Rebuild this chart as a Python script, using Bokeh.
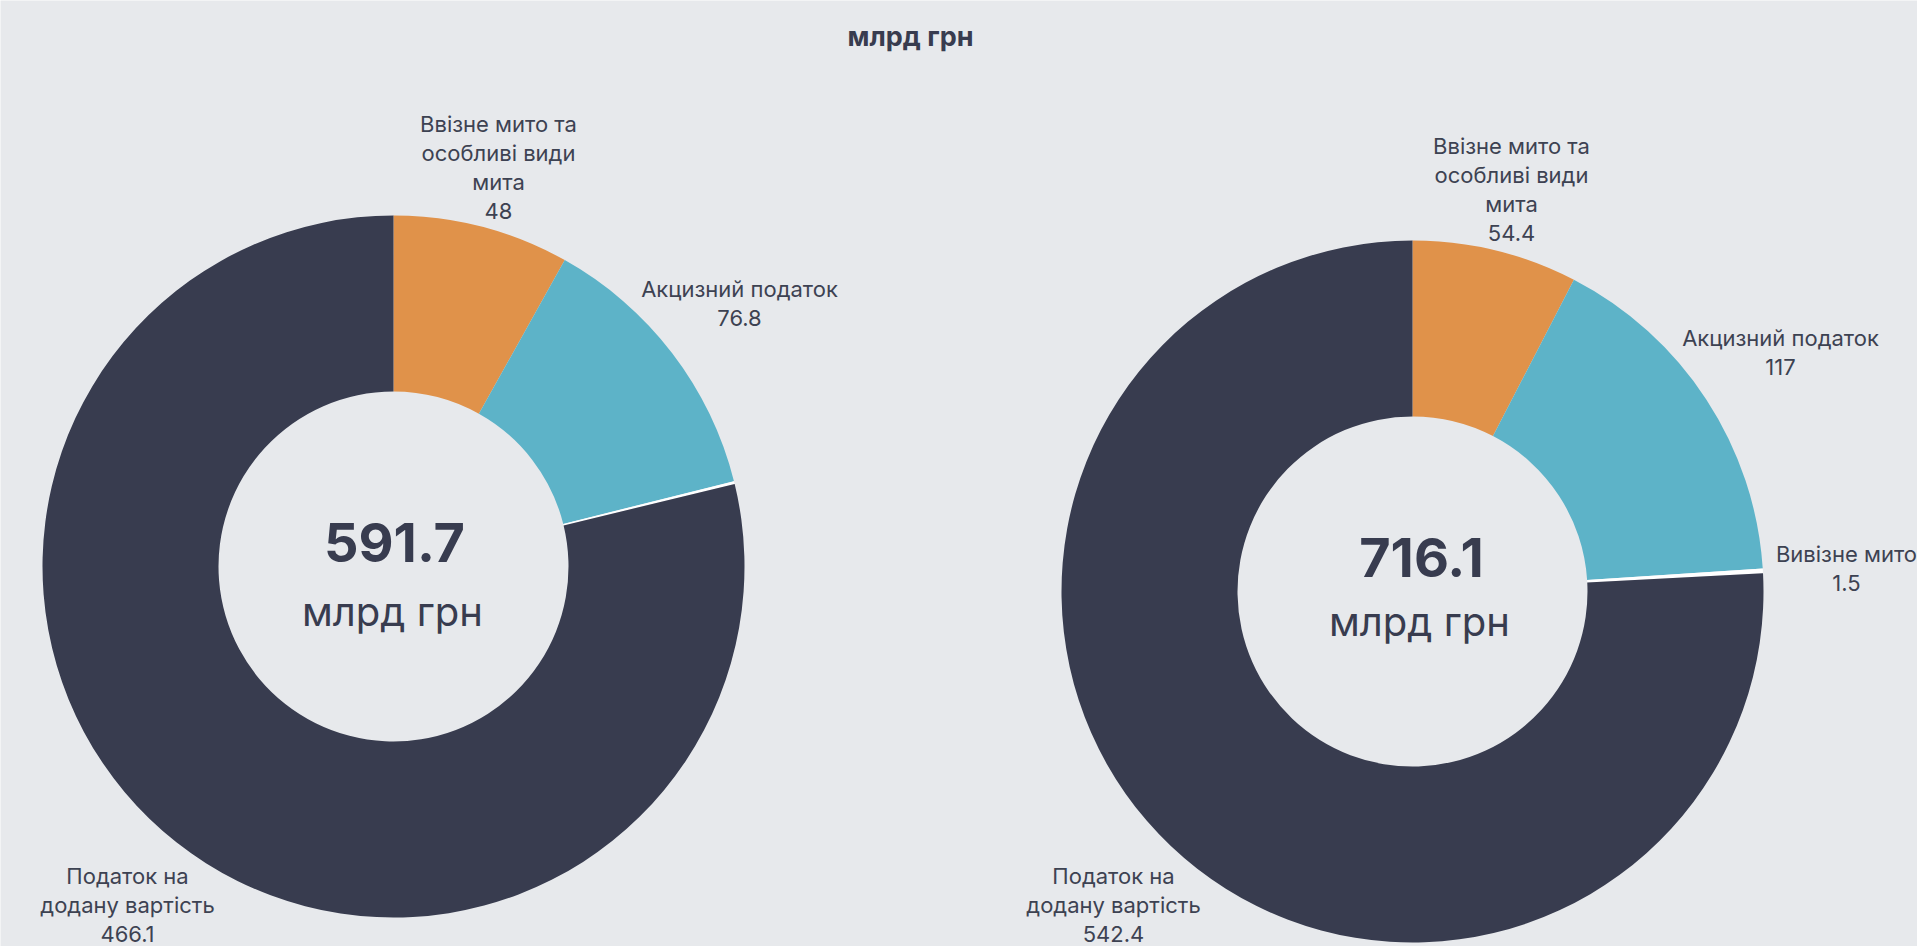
import math
from bokeh.plotting import figure
from bokeh.models import Range1d, ColumnDataSource
from bokeh.core.properties import value
from bokeh.embed import file_html
from bokeh.resources import INLINE

# ---------------- data ----------------
title_text = "млрд грн"
unit_text = "млрд грн"
categories = [
    "Ввізне мито та особливі види мита",
    "Акцизний податок",
    "Вивізне мито",
    "Податок на додану вартість",
]
label_lines = [
    ["Ввізне мито та", "особливі види", "мита"],
    ["Акцизний податок"],
    ["Вивізне мито"],
    ["Податок на", "додану вартість"],
]
slice_colors = ["#e0924a", "#5db3c8", "#ffffff", "#383c4f"]
left_values = [48, 76.8, 0.8, 466.1]
right_values = [54.4, 117, 1.5, 542.4]
left_total = 591.7
right_total = 716.1
left_label_shown = [True, True, False, True]
right_label_shown = [True, True, True, True]

# ---------------- layout ----------------
W, H = 1917, 946
BG = "#e7e9ec"
TXT = "#3d4252"
DARK = "#383c4f"
FONT = "Inter"

def py(y):
    return H - y

charts = [
    dict(values=left_values, total=left_total, shown=left_label_shown,
         center=(393, 566), label_pos=[(498, 123), (739, 288), None, (127, 875)],
         num_pos=(394, 542), unit_pos=(392, 611)),
    dict(values=right_values, total=right_total, shown=right_label_shown,
         center=(1412, 591), label_pos=[(1511, 145), (1780, 337), (1846, 553), (1113, 875)],
         num_pos=(1421, 557), unit_pos=(1419, 621)),
]
R_OUT, R_IN = 351, 175
LINE_STEP = 29

p = figure(width=W, height=H, x_range=Range1d(0, W), y_range=Range1d(0, H),
           output_backend="svg", toolbar_location=None, min_border=0)
p.axis.visible = False
p.grid.visible = False
p.outline_line_color = None
p.background_fill_color = BG
p.border_fill_color = BG

for ch in charts:
    vals = ch["values"]
    s = sum(vals)
    cum = [0.0]
    for v in vals:
        cum.append(cum[-1] + v)
    starts = [math.pi / 2 - 2 * math.pi * c / s for c in cum[:-1]]
    ends = [math.pi / 2 - 2 * math.pi * c / s for c in cum[1:]]
    cx, cy = ch["center"]
    src = ColumnDataSource(dict(x=[cx] * len(vals), y=[py(cy)] * len(vals),
                                start=starts, end=ends, color=slice_colors,
                                name=categories, val=vals))
    p.annular_wedge(x="x", y="y", inner_radius=R_IN, outer_radius=R_OUT,
                    start_angle="start", end_angle="end", direction="clock",
                    fill_color="color", line_color=None, source=src)

    # data labels
    xs, ys, txt = [], [], []
    for i, v in enumerate(vals):
        if not ch["shown"][i] or ch["label_pos"][i] is None:
            continue
        lx, ly = ch["label_pos"][i]
        lines = label_lines[i] + [f"{v:g}"]
        for k, line in enumerate(lines):
            xs.append(lx)
            ys.append(py(ly + k * LINE_STEP))
            txt.append(line)
    p.text(x=xs, y=ys, text=txt, text_font=value(FONT), text_font_size="22px",
           text_color=TXT, text_align="center", text_baseline="middle")

    # center total
    nx, ny = ch["num_pos"]
    p.text(x=[nx], y=[py(ny)], text=[f"{ch['total']:g}"], text_font=value(FONT),
           text_font_size="54px", text_font_style="bold", text_color=DARK,
           text_align="center", text_baseline="middle")
    ux, uy = ch["unit_pos"]
    p.text(x=[ux], y=[py(uy)], text=[unit_text], text_font=value(FONT),
           text_font_size="40px", text_font_style="normal", text_color=DARK,
           text_align="center", text_baseline="middle")

# title
p.text(x=[910], y=[py(36)], text=[title_text], text_font=value(FONT),
       text_font_size="27px", text_font_style="bold", text_color=DARK,
       text_align="center", text_baseline="middle")

open("out.html", "w").write(file_html(p, INLINE))
